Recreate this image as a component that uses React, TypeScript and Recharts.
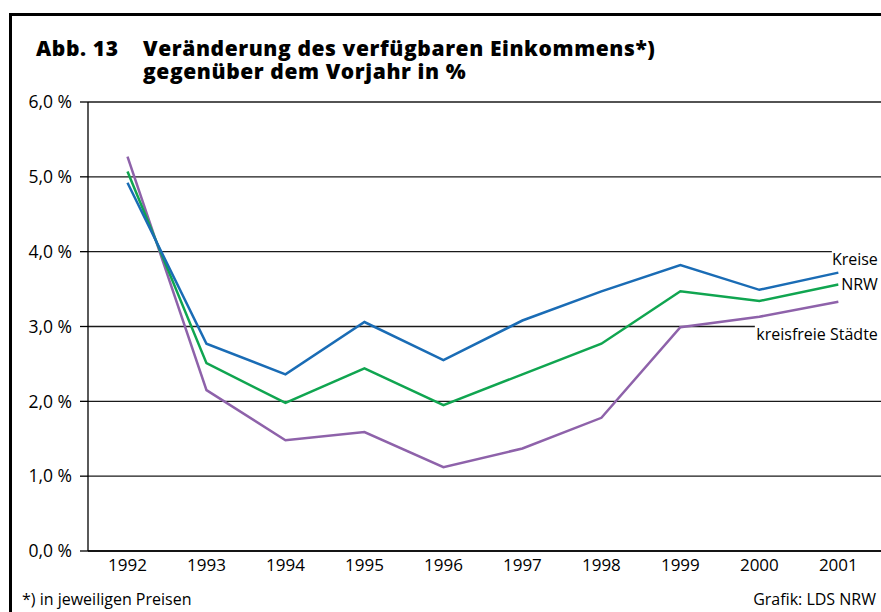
import React from 'react';
import { LineChart, Line, XAxis, YAxis, CartesianGrid, LabelList } from 'recharts';

const years = [1992, 1993, 1994, 1995, 1996, 1997, 1998, 1999, 2000, 2001];
const kreise = [4.92, 2.77, 2.36, 3.06, 2.55, 3.08, 3.47, 3.82, 3.49, 3.72];
const nrw = [5.07, 2.51, 1.98, 2.44, 1.95, 2.36, 2.77, 3.47, 3.34, 3.56];
const staedte = [5.27, 2.15, 1.48, 1.59, 1.12, 1.37, 1.78, 2.99, 3.13, 3.33];
const yTicks = [0, 1, 2, 3, 4, 5, 6];

const data = years.map((year, i) => ({
  year,
  kreise: kreise[i],
  nrw: nrw[i],
  staedte: staedte[i],
}));

const FONT = '"Open Sans", "Noto Sans", sans-serif';

const fmtPct = (v: number) => v.toFixed(1).replace('.', ',') + ' %';

// label at the end of a series, with a white box so the grid line stops before it
const endLabel = (text: string, dx: number, dy: number, boxW: number) => (props: any) => {
  const { x, y, index } = props;
  if (index !== years.length - 1) return null;
  const tx = x + dx;
  const ty = y + dy;
  return (
    <g>
      <rect x={tx - boxW} y={ty - 9} width={boxW + 20} height={18} fill="#fff" />
      <text x={tx} y={ty} textAnchor="end" dominantBaseline="central" fontSize={16} fontFamily={FONT} fill="#000">
        {text}
      </text>
    </g>
  );
};

export default function App() {
  return (
    <div style={{ position: 'absolute', left: 0, top: 0, width: 881, height: 612, overflow: 'hidden', background: '#fff' }}>
      <div style={{ position: 'absolute', left: 9, top: 13, width: 1000, height: 1000, borderLeft: '3px solid #000', borderTop: '3px solid #000' }} />
      <LineChart
        width={881}
        height={612}
        data={data}
        margin={{ top: 102, right: 0, left: 0, bottom: 31 }}
        style={{ position: 'absolute', left: 0, top: 0 }}
      >
        <CartesianGrid vertical={false} stroke="#1a1a1a" strokeWidth={1.3} />
        <XAxis
          dataKey="year"
          type="number"
          domain={[1991.5, 2001.54]}
          ticks={years}
          allowDataOverflow
          height={30}
          tickLine={false}
          axisLine={{ stroke: '#000', strokeWidth: 1.5 }}
          tick={{ fill: '#000', fontSize: 17, fontFamily: FONT }}
          tickMargin={2}
        />
        <YAxis
          domain={[0, 6]}
          ticks={yTicks}
          width={88}
          tickSize={8}
          tickMargin={8}
          tickFormatter={fmtPct}
          axisLine={{ stroke: '#000', strokeWidth: 1.3 }}
          tickLine={{ stroke: '#000', strokeWidth: 1.3 }}
          tick={{ fill: '#000', fontSize: 17.5, fontFamily: FONT }}
        />
        <Line dataKey="staedte" stroke="#8e62aa" strokeWidth={2.5} dot={false} isAnimationActive={false}>
          <LabelList dataKey="staedte" content={endLabel('kreisfreie Städte', 39.5, 32, 123)} />
        </Line>
        <Line dataKey="nrw" stroke="#10a550" strokeWidth={2.5} dot={false} isAnimationActive={false}>
          <LabelList dataKey="nrw" content={endLabel('NRW', 39.5, -1, 39)} />
        </Line>
        <Line dataKey="kreise" stroke="#1a6cb5" strokeWidth={2.5} dot={false} isAnimationActive={false}>
          <LabelList dataKey="kreise" content={endLabel('Kreise', 39.5, -14, 46)} />
        </Line>
      </LineChart>
      <svg width={881} height={612} style={{ position: 'absolute', left: 0, top: 0, pointerEvents: 'none' }}>
        <g fontFamily={FONT} fontWeight={800} fontSize={21} fill="#000" letterSpacing={0.6}>
          <text x={36} y={56}>Abb. 13</text>
          <text x={143} y={56}>Veränderung des verfügbaren Einkommens*)</text>
          <text x={143} y={79}>gegenüber dem Vorjahr in %</text>
        </g>
        <g fontFamily={FONT} fontSize={16} fill="#000">
          <text x={22} y={605}>*) in jeweiligen Preisen</text>
          <text x={876} y={605} textAnchor="end">Grafik: LDS NRW</text>
        </g>
      </svg>
    </div>
  );
}
